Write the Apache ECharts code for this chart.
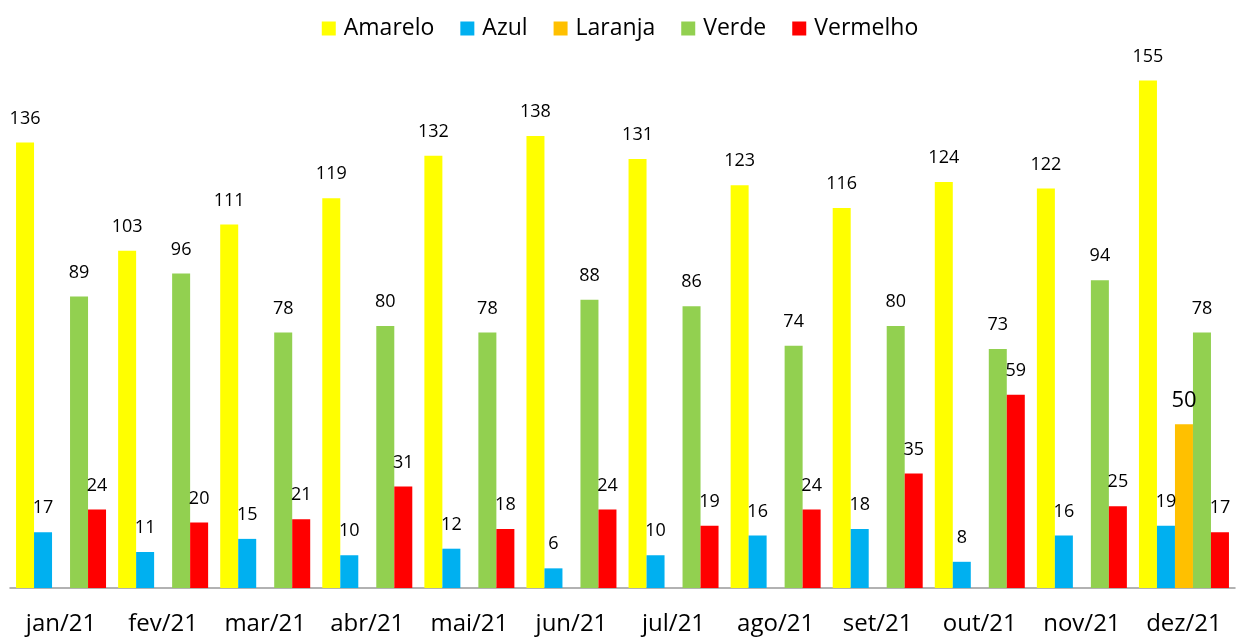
<!DOCTYPE html>
<html><head><meta charset="utf-8">
<script src="https://cdn.jsdelivr.net/npm/echarts@6/dist/echarts.min.js"></script>
<style>html,body{margin:0;padding:0;background:#fff}#c{width:1240px;height:637px}</style>
</head><body><div id="c"></div>
<script>
const categories = ['jan/21','fev/21','mar/21','abr/21','mai/21','jun/21','jul/21','ago/21','set/21','out/21','nov/21','dez/21'];
const amarelo = [136,103,111,119,132,138,131,123,116,124,122,155];
const azul = [17,11,15,10,12,6,10,16,18,8,16,19];
const laranja = ['-','-','-','-','-','-','-','-','-','-','-',50];
const verde = [89,96,78,80,78,88,86,74,80,73,94,78];
const vermelho = [24,20,21,31,18,24,19,24,35,59,25,17];

const font = 'Open Sans';
function mk(name, data, color, labelSize, dist) {
  return {
    name, type: 'bar', data, barWidth: 18, barGap: '0%',
    itemStyle: { color },
    label: { show: true, position: 'top', distance: dist || 15, color: '#000', fontFamily: font, fontSize: labelSize || 18 }
  };
}
const chart = echarts.init(document.getElementById('c'), null, { renderer: 'canvas' });
chart.setOption({
  animation: false,
  backgroundColor: '#fff',
  legend: {
    top: 12, left: 'center', itemWidth: 14, itemHeight: 14, itemGap: 26,
    icon: 'rect',
    textStyle: { fontFamily: font, fontSize: 23, color: '#000', padding: [0, 0, 0, 3] }
  },
  grid: { left: 10, right: 5, top: 64, bottom: 49, containLabel: false },
  xAxis: {
    type: 'category', data: categories,
    axisLine: { lineStyle: { color: '#999', width: 1.5 } },
    axisTick: { show: false },
    axisLabel: { interval: 0, hideOverlap: false, fontFamily: font, fontSize: 24, color: '#000', margin: 24 }
  },
  yAxis: { type: 'value', min: 0, max: 160, show: false, splitLine: { show: false } },
  series: [
    mk('Amarelo', amarelo, '#FFFF00'),
    mk('Azul', azul, '#00B0F0'),
    mk('Laranja', laranja, '#FFC000', 22, 13),
    mk('Verde', verde, '#92D050'),
    mk('Vermelho', vermelho, '#FF0000')
  ]
});
</script></body></html>
